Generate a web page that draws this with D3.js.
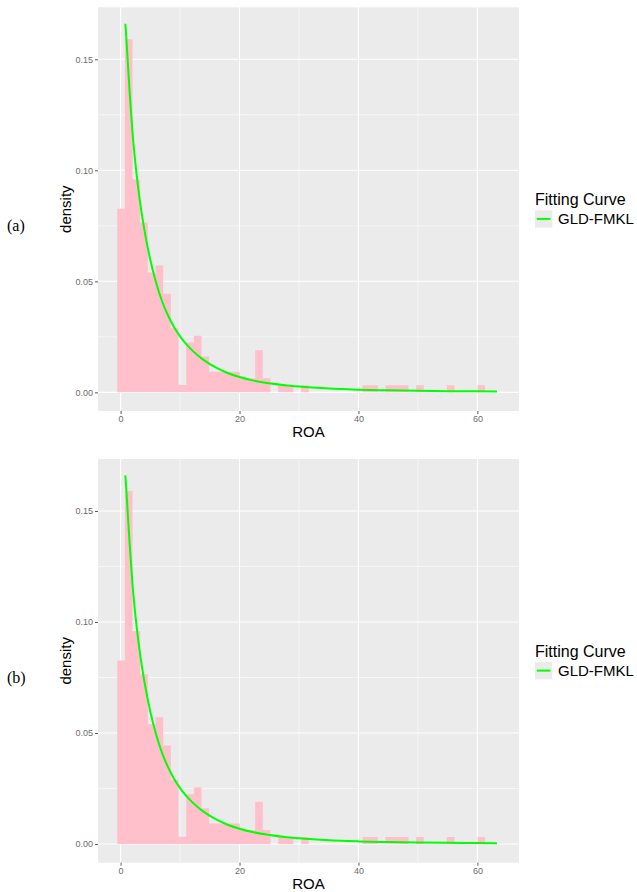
<!DOCTYPE html>
<html>
<head>
<meta charset="utf-8">
<script src="https://cdn.jsdelivr.net/npm/d3@7"></script>
<style>
  html, body { margin: 0; padding: 0; background: #fff; }
  svg { display: block; }
</style>
</head>
<body>
<svg id="chart" width="637" height="892"></svg>
<script>
// ---- data ----
const binStart = -0.57;          // left edge of first histogram bin (ROA units)
const binWidth = 1.289;          // histogram bin width (ROA units)
const binDensity = [
  0.0827, 0.1590, 0.0958, 0.0765, 0.0540, 0.0571, 0.0444, 0.0289,
  0.0033, 0.0224, 0.0255, 0.0161, 0.0093, 0.0093, 0.0093, 0.0093,
  0.0063, 0.0063, 0.0190, 0.0063, 0.0000, 0.0032, 0.0032, 0.0000,
  0.0032, 0.0000, 0.0000, 0.0000, 0.0000, 0.0000, 0.0000, 0.0000,
  0.0032, 0.0032, 0.0000, 0.0032, 0.0032, 0.0032, 0.0000, 0.0032,
  0.0000, 0.0000, 0.0000, 0.0032, 0.0000, 0.0000, 0.0000, 0.0032
];
const curveX = [0.8, 1.0, 1.5, 2.0, 2.5, 3.0, 3.5, 4.0, 5.0, 6.0, 7.0, 8.0, 9.0,
  10.0, 11.0, 12.0, 13.0, 14.0, 16.0, 18.0, 20.0, 22.0, 25.0, 28.0, 31.0, 35.0, 40.0,
  45.0, 50.0, 55.0, 60.0, 63.3];
const curveY = [0.1660, 0.1580, 0.1360, 0.1170, 0.1028, 0.0912, 0.0815, 0.0732, 0.0596,
  0.0491, 0.0408, 0.0345, 0.0293, 0.0252, 0.0218, 0.0190, 0.0166, 0.0145, 0.0112, 0.0087,
  0.0069, 0.0055, 0.0041, 0.0031, 0.0024, 0.0017, 0.0012, 0.0009, 0.0007, 0.00055,
  0.00045, 0.0004];
const xTicks = [0, 20, 40, 60];
const xMinor = [10, 30, 50];
const yTicks = [0, 0.05, 0.10, 0.15];
const yMinor = [0.025, 0.075, 0.125];
const panelTags = ["(a)", "(b)"];
const legendTitle = "Fitting Curve";
const legendLabel = "GLD-FMKL";
const xTitle = "ROA";
const yTitle = "density";

// ---- layout ----
const svg = d3.select("#chart");
const panelLeft = 98, panelRight = 519, panelH = 403.7;
const panelTops = [7.3, 459];

const x = d3.scaleLinear().domain([-3.8, 67.0]).range([panelLeft, panelRight]);

const bins = binDensity.map((d, i) => ({ x0: binStart + i * binWidth, x1: binStart + (i + 1) * binWidth, d }));
const curvePts = curveX.map((v, i) => [v, curveY[i]]);

panelTops.forEach((top, pi) => {
  const bottom = top + panelH;
  const y = d3.scaleLinear().domain([-0.0084, 0.1734]).range([bottom, top]);
  const g = svg.append("g");

  // panel background
  g.append("rect").attr("x", panelLeft).attr("y", top)
    .attr("width", panelRight - panelLeft).attr("height", panelH).attr("fill", "#EBEBEB");

  // minor grid
  g.selectAll(null).data(yMinor).join("line")
    .attr("x1", panelLeft).attr("x2", panelRight).attr("y1", d => y(d)).attr("y2", d => y(d))
    .attr("stroke", "#fff").attr("stroke-width", 0.55);
  g.selectAll(null).data(xMinor).join("line")
    .attr("y1", top).attr("y2", bottom).attr("x1", d => x(d)).attr("x2", d => x(d))
    .attr("stroke", "#fff").attr("stroke-width", 0.55);
  // major grid
  g.selectAll(null).data(yTicks).join("line")
    .attr("x1", panelLeft).attr("x2", panelRight).attr("y1", d => y(d)).attr("y2", d => y(d))
    .attr("stroke", "#fff").attr("stroke-width", 1.1);
  g.selectAll(null).data(xTicks).join("line")
    .attr("y1", top).attr("y2", bottom).attr("x1", d => x(d)).attr("x2", d => x(d))
    .attr("stroke", "#fff").attr("stroke-width", 1.1);

  // histogram as one path (no seams)
  const p = d3.path();
  bins.filter(b => b.d > 0).forEach(b => {
    p.rect(x(b.x0), y(b.d), x(b.x1) - x(b.x0), y(0) - y(b.d));
  });
  g.append("path").attr("d", p.toString()).attr("fill", "#FFC0CB");

  // fitted curve
  const line = d3.line().x(d => x(d[0])).y(d => y(d[1])).curve(d3.curveMonotoneX);
  g.append("path").datum(curvePts).attr("d", line)
    .attr("fill", "none").attr("stroke", "#00FF00").attr("stroke-width", 2);

  // axes
  const ya = g.append("g").attr("transform", `translate(${panelLeft},0)`)
    .call(d3.axisLeft(y).tickValues(yTicks).tickFormat(d3.format(".2f")).tickSize(3).tickPadding(2));
  const xa = g.append("g").attr("transform", `translate(0,${bottom})`)
    .call(d3.axisBottom(x).tickValues(xTicks).tickFormat(d3.format("d")).tickSize(3).tickPadding(2));
  [ya, xa].forEach(a => {
    a.select(".domain").remove();
    a.selectAll(".tick line").attr("stroke", "#444").attr("stroke-width", 0.9);
    a.selectAll(".tick text").attr("fill", "#6b6b6b")
      .style("font-family", "'Liberation Sans', Arial, sans-serif").style("font-size", "9px");
  });

  // axis titles
  g.append("text").attr("x", (panelLeft + panelRight) / 2).attr("y", bottom + 26)
    .attr("text-anchor", "middle").attr("fill", "#000")
    .style("font-family", "'Liberation Sans', Arial, sans-serif").style("font-size", "15px")
    .text(xTitle);
  g.append("text").attr("transform", `translate(70.5,${top + panelH / 2}) rotate(-90)`)
    .attr("text-anchor", "middle").attr("fill", "#000")
    .style("font-family", "'Liberation Sans', Arial, sans-serif").style("font-size", "15px")
    .text(yTitle);

  // panel tag
  g.append("text").attr("x", 7).attr("y", top + 224)
    .attr("fill", "#000")
    .style("font-family", "'Liberation Serif', 'Times New Roman', serif").style("font-size", "16px")
    .text(panelTags[pi]);

  // legend
  const lg = g.append("g").attr("transform", `translate(535,${top})`);
  lg.append("text").attr("x", 0).attr("y", 198).attr("fill", "#000")
    .style("font-family", "'Liberation Sans', Arial, sans-serif").style("font-size", "16px")
    .text(legendTitle);
  lg.append("rect").attr("x", 0).attr("y", 203).attr("width", 17.3).attr("height", 17.3)
    .attr("fill", "#EBEBEB");
  lg.append("line").attr("x1", 1.8).attr("x2", 15.5).attr("y1", 211.6).attr("y2", 211.6)
    .attr("stroke", "#00FF00").attr("stroke-width", 2);
  lg.append("text").attr("x", 23).attr("y", 217).attr("fill", "#000")
    .style("font-family", "'Liberation Sans', Arial, sans-serif").style("font-size", "15px")
    .text(legendLabel);
});
</script>
</body>
</html>
